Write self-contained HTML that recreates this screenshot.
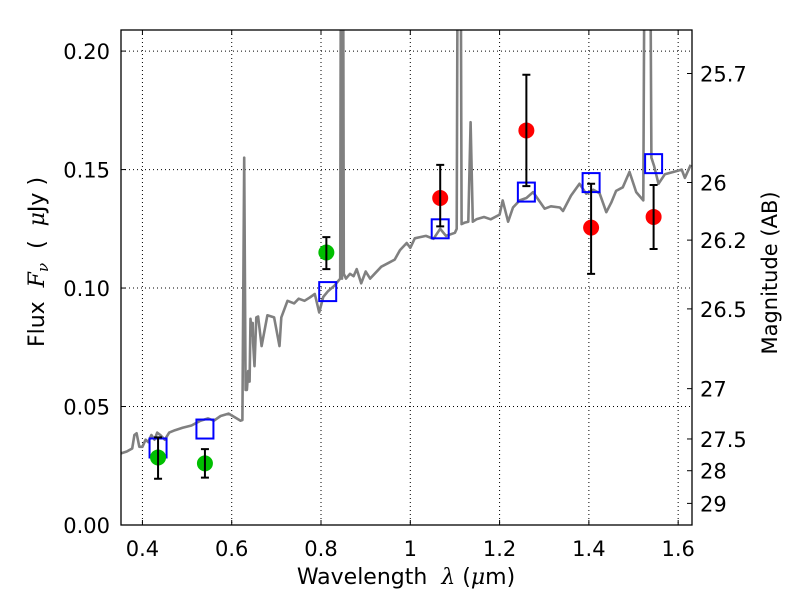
<!DOCTYPE html>
<html><head><meta charset="utf-8"><style>
html,body{margin:0;padding:0;background:#fff;}
svg{display:block;font-family:"DejaVu Sans","Liberation Sans",sans-serif;}
</style></head><body>
<svg id="chart" width="800" height="600" viewBox="0 0 800 600">
<defs><clipPath id="clip"><rect x="121" y="30" width="571" height="495"/></clipPath></defs>
<rect x="0" y="0" width="800" height="600" fill="#fff"/>
<g id="grid"></g>
<g id="marks" clip-path="url(#clip)"></g>
<rect x="121" y="30" width="571" height="495" fill="none" stroke="#000" stroke-width="1.3"/>
<g id="axes"></g>
<text x="406" y="584" font-size="22" text-anchor="middle" xml:space="preserve">Wavelength  <tspan font-family="DejaVu Serif,serif" font-style="italic">λ</tspan> (<tspan font-family="DejaVu Serif,serif" font-style="italic">μ</tspan>m)</text>
<text transform="translate(44,262) rotate(-90)" font-size="22" text-anchor="middle" xml:space="preserve">Flux  <tspan font-family="DejaVu Serif,serif" font-style="italic">F<tspan font-size="15" dy="4">ν</tspan></tspan><tspan dy="-4">  (  </tspan><tspan font-family="DejaVu Serif,serif" font-style="italic">μ</tspan>Jy )</text>
<text transform="translate(777,273) rotate(-90)" font-size="21" text-anchor="middle">Magnitude (AB)</text>
</svg>
<script>
const specX=[0.352,0.365,0.377,0.382,0.387,0.393,0.4,0.407,0.413,0.42,0.427,0.433,0.44,0.45,0.46,0.473,0.49,0.51,0.53,0.547,0.56,0.575,0.593,0.607,0.62,0.624,0.628,0.631,0.634,0.637,0.64,0.642,0.645,0.647,0.648,0.651,0.655,0.659,0.667,0.68,0.695,0.707,0.711,0.725,0.74,0.75,0.763,0.775,0.786,0.796,0.805,0.816,0.83,0.843,0.845,0.847,0.849,0.851,0.856,0.865,0.873,0.88,0.89,0.9,0.91,0.92,0.935,0.95,0.965,0.977,0.992,1.0,1.01,1.022,1.035,1.052,1.067,1.08,1.1,1.104,1.107,1.112,1.115,1.122,1.13,1.135,1.14,1.148,1.165,1.18,1.2,1.207,1.219,1.23,1.245,1.26,1.275,1.301,1.315,1.335,1.342,1.36,1.379,1.394,1.41,1.424,1.439,1.45,1.461,1.476,1.491,1.506,1.522,1.526,1.53,1.536,1.54,1.546,1.556,1.57,1.59,1.608,1.615,1.628];
const specY=[0.0302,0.031,0.0323,0.038,0.0387,0.033,0.033,0.036,0.035,0.038,0.036,0.039,0.038,0.036,0.039,0.040,0.041,0.042,0.044,0.045,0.044,0.046,0.047,0.0455,0.044,0.0443,0.155,0.057,0.057,0.065,0.0605,0.087,0.080,0.0853,0.077,0.067,0.0876,0.088,0.0755,0.0885,0.0876,0.0755,0.0876,0.0946,0.0935,0.0955,0.0946,0.096,0.0975,0.0897,0.0962,0.0987,0.101,0.104,0.3,0.104,0.3,0.106,0.104,0.106,0.105,0.108,0.102,0.107,0.104,0.106,0.109,0.1105,0.112,0.116,0.119,0.117,0.121,0.1215,0.122,0.1208,0.125,0.122,0.1233,0.125,0.3,0.3,0.127,0.1276,0.128,0.17,0.128,0.129,0.130,0.129,0.131,0.137,0.128,0.134,0.137,0.138,0.1405,0.1335,0.1345,0.134,0.1325,0.139,0.144,0.1398,0.1415,0.140,0.132,0.136,0.141,0.1425,0.149,0.1405,0.137,0.3,0.3,0.3,0.155,0.1515,0.144,0.148,0.149,0.150,0.1465,0.152];
const greenX=[0.435,0.54,0.812];
const greenY=[0.0285,0.026,0.115];
const greenLo=[0.0195,0.020,0.108];
const greenHi=[0.037,0.032,0.1215];
const redX=[1.067,1.26,1.405,1.545];
const redY=[0.138,0.1665,0.1255,0.130];
const redLo=[0.126,0.143,0.106,0.1165];
const redHi=[0.152,0.190,0.144,0.1435];
const modelX=[0.435,0.54,0.815,1.067,1.26,1.405,1.545];
const modelY=[0.0325,0.0405,0.0985,0.125,0.1405,0.1445,0.1525];
const xTicks=[0.4,0.6,0.8,1.0,1.2,1.4,1.6];
const xTickLabels=["0.4","0.6","0.8","1","1.2","1.4","1.6"];
const yTicks=[0,0.05,0.10,0.15,0.20];
const yTickLabels=["0.00","0.05","0.10","0.15","0.20"];
const magTicks=[25.7,26,26.2,26.5,27,27.5,28,29];
const magLabels=["25.7","26","26.2","26.5","27","27.5","28","29"];

const X0=121,X1=692,Y0=525,Y1=30,XMIN=0.352,XMAX=1.631,YMIN=0,YMAX=0.2089;
function sx(v){return X0+(v-XMIN)/(XMAX-XMIN)*(X1-X0);}
function sy(v){return Y0-(v-YMIN)/(YMAX-YMIN)*(Y0-Y1);}
function magToFlux(m){return Math.pow(10,(23.9-m)/2.5);}
const NS="http://www.w3.org/2000/svg";
function mk(parent,tag,attrs){const e=document.createElementNS(NS,tag);for(const k in attrs)e.setAttribute(k,attrs[k]);parent.appendChild(e);return e;}
const grid=document.getElementById('grid'),marks=document.getElementById('marks'),axes=document.getElementById('axes');

xTicks.forEach((t,i)=>{
  const x=sx(t);
  const g=mk(grid,'line',{x1:x,x2:x,y1:Y1,y2:Y0,stroke:'#000','stroke-width':1,'stroke-dasharray':'1,3'});
  
  
  const tk=mk(axes,'line',{x1:x,x2:x,y1:Y0,y2:Y0-5,stroke:'#000'});
  
  
  const tt=mk(axes,'line',{x1:x,x2:x,y1:Y1,y2:Y1+5,stroke:'#000'});
  
  
  const l=mk(axes,'text',{x:x,y:556,'font-size':21,'text-anchor':'middle'});
  l.textContent=xTickLabels[i];
  
  
});
yTicks.forEach((t,i)=>{
  const y=sy(t);
  const g=mk(grid,'line',{x1:X0,x2:X1,y1:y,y2:y,stroke:'#000','stroke-width':1,'stroke-dasharray':'1,3'});
  
  
  const tk=mk(axes,'line',{x1:X0,x2:X0+5,y1:y,y2:y,stroke:'#000'});
  
  
  const l=mk(axes,'text',{x:110,y:y+8,'font-size':21,'text-anchor':'end'});
  l.textContent=yTickLabels[i];
  
  
});
magTicks.forEach((m,i)=>{
  const y=sy(magToFlux(m));
  const tk=mk(axes,'line',{x1:X1-5,x2:X1,y1:y,y2:y,stroke:'#000'});
  
  
  const l=mk(axes,'text',{x:700,y:y+8,'font-size':21,'text-anchor':'start'});
  l.textContent=magLabels[i];
  
  
});

const pts=specX.map((x,i)=>sx(x).toFixed(1)+','+sy(specY[i]).toFixed(1)).join(' ');
const sp=mk(marks,'polyline',{points:pts,fill:'none',stroke:'#808080','stroke-width':2.6,'stroke-linejoin':'round'});



modelX.forEach((x,i)=>{
  const cx=sx(x),cy=sy(modelY[i]);
  const r=mk(marks,'rect',{x:cx-8.5,y:cy-9.5,width:17,height:19,fill:'none',stroke:'#0000ff','stroke-width':2});
  
  
});
function points(xs,ys,lo,hi,color,name){
  xs.forEach((x,i)=>{
    const cx=sx(x);
    const c=mk(marks,'circle',{cx:cx,cy:sy(ys[i]),r:8,fill:color});
    
    
  });
  xs.forEach((x,i)=>{
    const cx=sx(x),a=sy(lo[i]),b=sy(hi[i]);
    const e=mk(marks,'path',{d:`M${cx},${a}V${b}M${cx-4},${a}H${cx+4}M${cx-4},${b}H${cx+4}`,stroke:'#000','stroke-width':2,fill:'none'});
    
    
  });
}
points(greenX,greenY,greenLo,greenHi,'#00bf00','green-observed-point');
points(redX,redY,redLo,redHi,'#ff0000','red-observed-point');
</script>
</body></html>
